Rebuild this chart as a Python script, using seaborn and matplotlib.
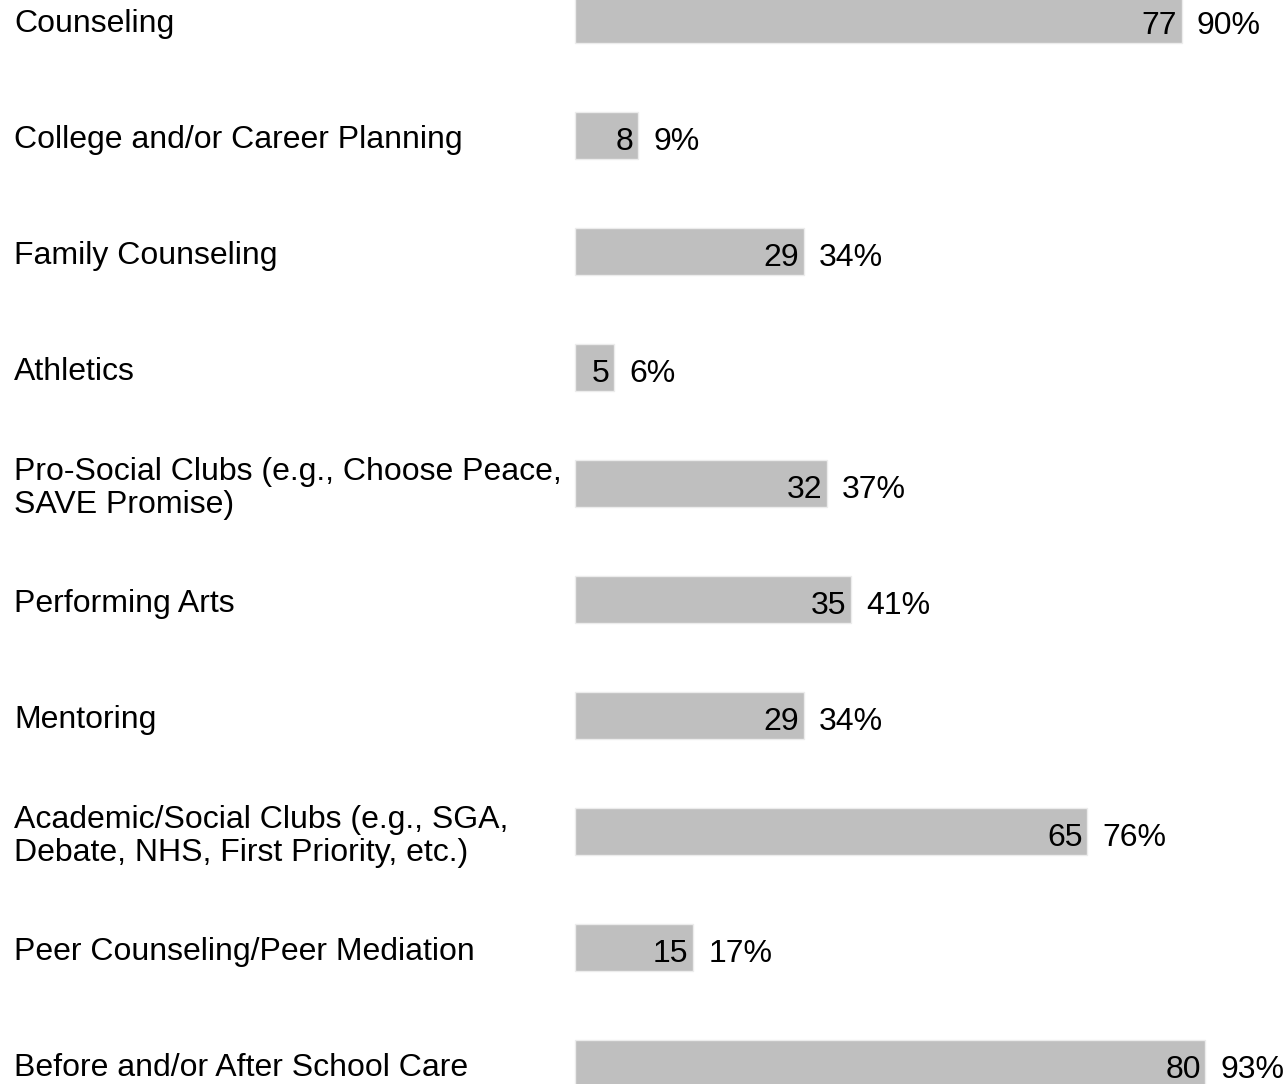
import matplotlib
matplotlib.use("Agg")
import matplotlib.pyplot as plt
import matplotlib.transforms as mtransforms
import pandas as pd
import seaborn as sns

# ======== DATA ========
categories = [
    "Counseling",
    "College and/or Career Planning",
    "Family Counseling",
    "Athletics",
    "Pro-Social Clubs (e.g., Choose Peace,\nSAVE Promise)",
    "Performing Arts",
    "Mentoring",
    "Academic/Social Clubs (e.g., SGA,\nDebate, NHS, First Priority, etc.)",
    "Peer Counseling/Peer Mediation",
    "Before and/or After School Care",
]
counts = [77, 8, 29, 5, 32, 35, 29, 65, 15, 80]
percents = [90, 9, 34, 6, 37, 41, 34, 76, 17, 93]

df = pd.DataFrame({"category": categories, "count": counts, "pct": percents})

# ======== STYLE ========
sns.set_style("white")
plt.rcParams["font.family"] = ["Liberation Sans", "DejaVu Sans"]
plt.rcParams["text.color"] = "black"
FS = 23
BAR = "#bfbfbf"

fig = plt.figure(figsize=(12.84, 10.84), dpi=100)
ax = fig.add_axes([0, 0, 1, 1])

sns.barplot(data=df, x="count", y="category", orient="h", color=BAR,
            width=0.4, edgecolor="#ececec", linewidth=1, saturation=1, ax=ax)

# pixel based limits so bars start at x=575 and are spaced like the original
px_per_unit = 7.88
ax.set_xlim(-575 / px_per_unit, (1284 - 575) / px_per_unit)
ax.set_ylim((1084 - 19.5) / 116, -19.5 / 116)

ax.axis("off")

trans = mtransforms.blended_transform_factory(ax.transAxes, ax.transData)
for i, row in df.iterrows():
    ax.text(14 / 1284, i + 0.04, row["category"], ha="left", va="center",
            fontsize=FS, transform=trans, linespacing=1.12)
    y = i + 0.06
    ax.text(row["count"] - 0.6, y, str(row["count"]), ha="right", va="center",
            fontsize=FS)
    ax.text(row["count"] + 1.9, y, f"{row['pct']}%", ha="left", va="center",
            fontsize=FS)

fig.savefig("out.png", dpi=100)
plt.close(fig)
